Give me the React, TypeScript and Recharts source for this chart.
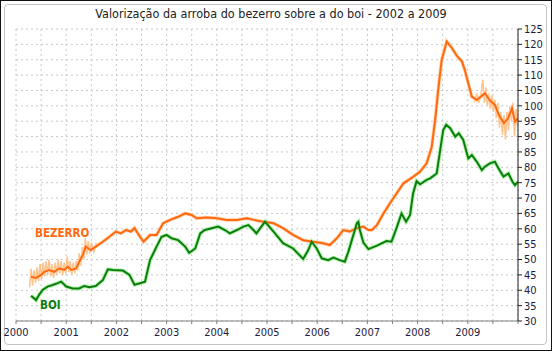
import React from 'react';
import { LineChart, Line, XAxis, YAxis, CartesianGrid } from 'recharts';

// Smoothed series (moving average) — time in fractional years
const bezerroTimes = [2000.30, 2000.40, 2000.50, 2000.56, 2000.66, 2000.76, 2000.86, 2000.96, 2001.03, 2001.10, 2001.20, 2001.26, 2001.33, 2001.39, 2001.49, 2001.59, 2001.73, 2001.86, 2001.99, 2002.09, 2002.19, 2002.29, 2002.36, 2002.47, 2002.54, 2002.67, 2002.80, 2002.93, 2003.07, 2003.23, 2003.37, 2003.50, 2003.60, 2003.80, 2004.00, 2004.20, 2004.40, 2004.60, 2004.74, 2004.93, 2005.13, 2005.32, 2005.52, 2005.72, 2005.92, 2006.12, 2006.25, 2006.39, 2006.52, 2006.65, 2006.79, 2006.92, 2007.02, 2007.09, 2007.19, 2007.32, 2007.45, 2007.58, 2007.72, 2007.91, 2008.05, 2008.18, 2008.28, 2008.35, 2008.41, 2008.48, 2008.58, 2008.68, 2008.78, 2008.88, 2008.94, 2009.01, 2009.08, 2009.18, 2009.26, 2009.34, 2009.44, 2009.54, 2009.62, 2009.72, 2009.80, 2009.88, 2009.94, 2010.0];
const bezerroValues = [44.4, 44.0, 45.0, 46.0, 46.6, 46.0, 47.1, 46.6, 47.7, 46.6, 47.1, 49.3, 51.5, 54.2, 53.1, 54.2, 55.8, 57.4, 59.1, 58.5, 59.6, 59.1, 60.2, 57.4, 55.8, 58.0, 58.0, 61.8, 62.9, 63.9, 65.0, 64.5, 63.4, 63.7, 63.4, 62.9, 62.9, 63.4, 62.9, 62.3, 61.8, 60.2, 58.0, 56.3, 55.8, 55.3, 54.7, 56.9, 59.6, 59.1, 60.2, 60.7, 59.6, 59.6, 61.2, 65.0, 68.3, 71.5, 74.8, 76.9, 78.6, 81.3, 86.5, 95.4, 105.1, 114.9, 120.9, 118.9, 116.3, 114.5, 111.7, 107.3, 103.0, 101.9, 103.0, 104.1, 101.8, 100.3, 97.0, 94.3, 95.9, 99.2, 94.8, 96.0];

const boiTimes = [2000.30, 2000.40, 2000.46, 2000.53, 2000.63, 2000.73, 2000.83, 2000.90, 2001.00, 2001.13, 2001.26, 2001.36, 2001.46, 2001.59, 2001.73, 2001.83, 2001.93, 2002.13, 2002.26, 2002.36, 2002.47, 2002.57, 2002.67, 2002.80, 2002.90, 2003.00, 2003.10, 2003.23, 2003.37, 2003.45, 2003.57, 2003.67, 2003.76, 2003.90, 2004.03, 2004.16, 2004.26, 2004.40, 2004.53, 2004.63, 2004.73, 2004.79, 2004.96, 2005.13, 2005.32, 2005.52, 2005.72, 2005.82, 2005.89, 2005.99, 2006.09, 2006.22, 2006.32, 2006.45, 2006.55, 2006.62, 2006.69, 2006.79, 2006.82, 2006.85, 2006.92, 2007.02, 2007.19, 2007.38, 2007.48, 2007.58, 2007.68, 2007.77, 2007.85, 2007.91, 2007.98, 2008.05, 2008.18, 2008.25, 2008.38, 2008.45, 2008.51, 2008.57, 2008.65, 2008.75, 2008.82, 2008.91, 2009.01, 2009.08, 2009.18, 2009.28, 2009.34, 2009.44, 2009.54, 2009.61, 2009.71, 2009.81, 2009.89, 2009.94, 2010.0];
const boiValues = [38.2, 36.8, 38.5, 40.1, 41.2, 41.7, 42.3, 42.8, 41.2, 40.6, 40.6, 41.4, 41.0, 41.4, 43.3, 46.8, 46.6, 46.4, 45.0, 41.8, 42.3, 42.8, 49.8, 54.2, 57.4, 58.0, 56.9, 56.3, 54.2, 52.2, 53.6, 58.5, 59.6, 60.2, 60.7, 59.6, 58.5, 59.6, 60.7, 61.2, 59.6, 58.5, 62.3, 59.1, 55.3, 53.6, 50.2, 53.0, 55.8, 53.6, 50.4, 49.8, 50.6, 49.8, 49.3, 52.5, 56.3, 61.8, 62.3, 59.6, 55.5, 53.4, 54.5, 56.0, 55.8, 60.2, 65.0, 62.3, 64.5, 71.5, 75.5, 74.5, 75.9, 76.4, 78.0, 85.6, 92.1, 93.8, 92.7, 90.0, 91.1, 88.9, 82.9, 84.0, 81.8, 79.1, 80.2, 81.3, 81.8, 79.7, 77.0, 78.0, 75.3, 74.2, 75.3];

// Raw (weekly) bezerro quotes where they stand out from the average
const rawBezerroEarlyTimes = [2000.27, 2000.30, 2000.33, 2000.36, 2000.39, 2000.42, 2000.45, 2000.48, 2000.51, 2000.54, 2000.57, 2000.60, 2000.63, 2000.66, 2000.69, 2000.72, 2000.75, 2000.78, 2000.81, 2000.84, 2000.87, 2000.90, 2000.93, 2000.96, 2000.99, 2001.02, 2001.05, 2001.08, 2001.11, 2001.14, 2001.17, 2001.20, 2001.23, 2001.26, 2001.29, 2001.32, 2001.35, 2001.38, 2001.41, 2001.44, 2001.47, 2001.50, 2001.55, 2001.60];
const rawBezerroEarlyValues = [41.0, 47.0, 41.5, 46.5, 42.5, 47.5, 43.0, 48.5, 43.5, 49.0, 44.5, 49.5, 45.0, 50.0, 44.5, 48.5, 44.0, 49.0, 45.0, 50.0, 45.5, 49.5, 45.0, 49.0, 45.5, 51.0, 46.0, 49.5, 45.0, 49.0, 45.5, 49.5, 46.5, 52.0, 48.0, 54.0, 50.0, 57.0, 51.5, 56.0, 52.0, 55.5, 52.5, 55.5];
const rawBezerroLateTimes = [2009.10, 2009.14, 2009.18, 2009.22, 2009.26, 2009.30, 2009.33, 2009.36, 2009.39, 2009.42, 2009.45, 2009.48, 2009.51, 2009.54, 2009.57, 2009.60, 2009.63, 2009.66, 2009.69, 2009.72, 2009.75, 2009.78, 2009.81, 2009.84, 2009.87, 2009.90, 2009.93, 2009.96, 2009.99];
const rawBezerroLateValues = [103, 101.5, 104, 101, 103.5, 108.5, 101, 106, 100, 104, 99, 103.5, 98, 102, 96, 101, 93, 98, 90.5, 97, 89, 98, 92, 100, 95, 101, 90, 99, 93];

const yTicks = [30, 35, 40, 45, 50, 55, 60, 65, 70, 75, 80, 85, 90, 95, 100, 105, 110, 115, 120, 125];
const xTicks = [2000, 2000.5, 2001, 2001.5, 2002, 2002.5, 2003, 2003.5, 2004, 2004.5, 2005, 2005.5, 2006, 2006.5, 2007, 2007.5, 2008, 2008.5, 2009, 2009.5, 2010];
const yearLabels = ['2000', '2001', '2002', '2003', '2004', '2005', '2006', '2007', '2008', '2009'];

const zip = (ts: number[], vs: number[]) => ts.map((t, i) => ({ t, v: vs[i] }));
const bezerroData = zip(bezerroTimes, bezerroValues);
const boiData = zip(boiTimes, boiValues);
const rawEarly = zip(rawBezerroEarlyTimes, rawBezerroEarlyValues);
const rawLate = zip(rawBezerroLateTimes, rawBezerroLateValues);

const FONT = '"DejaVu Sans Condensed", "DejaVu Sans", sans-serif';

export default function App() {
  return (
    <div style={{ position: 'fixed', left: 0, top: 0, width: 552, height: 351, background: '#fff', fontFamily: FONT }}>
      <div style={{ position: 'absolute', left: 0, top: 0, width: 550, height: 349, border: '1px solid #111' }} />
      <div style={{ position: 'absolute', left: 4, top: 4, width: 541, height: 339, border: '1px solid #c4c4c4', borderRadius: 4 }} />
      <div style={{ position: 'absolute', left: 0, top: 6, width: 542, textAlign: 'center', fontSize: 12.5, color: '#222' }}>
        Valorização da arroba do bezerro sobre a do boi - 2002 a 2009
      </div>
      <div style={{ position: 'absolute', left: 0, top: 0 }}>
        <LineChart width={552} height={351} margin={{ top: 29, right: 4, bottom: 10, left: 16 }}>
          <CartesianGrid stroke="#c8c8c8" strokeDasharray="2 3" />
          <XAxis
            type="number"
            dataKey="t"
            domain={[2000, 2010]}
            ticks={xTicks}
            interval={0}
            allowDataOverflow
            tickFormatter={(v: number) => (yearLabels.includes(String(v)) ? String(v) : '')}
            stroke="#808080"
            tickSize={3}
            tickMargin={4}
            height={20}
            tick={{ fill: '#1c1c40', fontSize: 11, fontFamily: FONT }}
          />
          <YAxis
            orientation="right"
            type="number"
            domain={[30, 125]}
            ticks={yTicks}
            interval={0}
            width={30}
            stroke="#222"
            tickSize={4}
            tickMargin={2}
            tick={{ fill: '#1c1c40', fontSize: 11, fontFamily: FONT }}
          />
          <Line data={rawEarly} dataKey="v" stroke="#ffc38c" strokeWidth={1.5} dot={false} isAnimationActive={false} />
          <Line data={rawLate} dataKey="v" stroke="#ffc38c" strokeWidth={1.5} dot={false} isAnimationActive={false} />
          <Line data={bezerroData} dataKey="v" stroke="#ffcfa8" strokeWidth={3.5} dot={false} isAnimationActive={false} />
          <Line data={boiData} dataKey="v" stroke="#b4f5b0" strokeWidth={4} dot={false} isAnimationActive={false} />
          <Line data={bezerroData} dataKey="v" stroke="#ff6a10" strokeWidth={2} dot={false} isAnimationActive={false} />
          <Line data={boiData} dataKey="v" stroke="#0c7d0c" strokeWidth={2} dot={false} isAnimationActive={false} />
        </LineChart>
      </div>
      <div style={{ position: 'absolute', left: 35, top: 226, fontSize: 11.5, fontWeight: 'bold', color: '#ff6a10', fontFamily: FONT }}>BEZERRO</div>
      <div style={{ position: 'absolute', left: 40, top: 298, fontSize: 11.5, fontWeight: 'bold', color: '#0c7d0c', fontFamily: FONT }}>BOI</div>
    </div>
  );
}
